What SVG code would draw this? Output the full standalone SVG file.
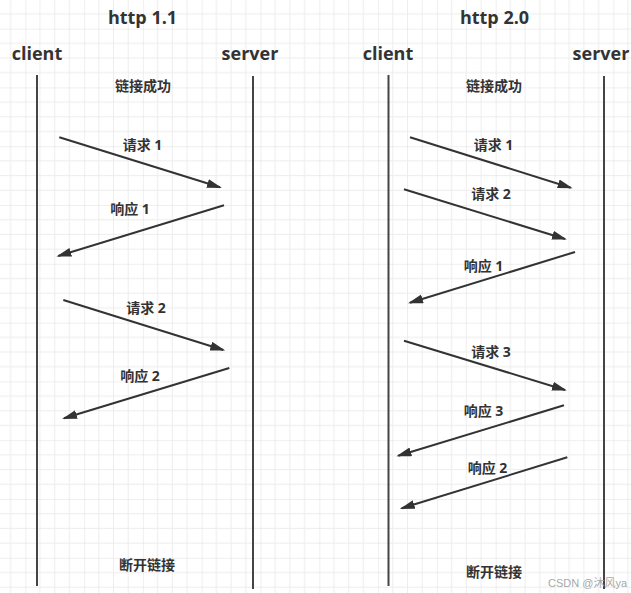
<svg xmlns="http://www.w3.org/2000/svg" width="631" height="593" viewBox="0 0 631 593">
<defs>
<pattern id="grid" patternUnits="userSpaceOnUse" x="25.3" y="28.6" width="58.8" height="58.8">
<rect x="0" y="0" width="58.8" height="58.8" fill="#ffffff"/>
<g fill="#ededed">
<rect x="14.2" y="0" width="1" height="58.8"/>
<rect x="28.9" y="0" width="1" height="58.8"/>
<rect x="43.6" y="0" width="1" height="58.8"/>
<rect x="0" y="14.2" width="58.8" height="1"/>
<rect x="0" y="28.9" width="58.8" height="1"/>
<rect x="0" y="43.6" width="58.8" height="1"/>
</g>
<g fill="#e0e0e0">
<rect x="-0.5" y="0" width="1" height="58.8"/>
<rect x="0" y="-0.5" width="58.8" height="1"/>
</g>
</pattern>
<marker id="ah" markerUnits="userSpaceOnUse" markerWidth="16" markerHeight="10" refX="13" refY="4.5" orient="auto">
<path d="M0,0 L15,4.5 L0,9 z" fill="#333333"/>
</marker>
<style>
.title{font-family:"Open Sans","Noto Sans CJK SC",sans-serif;font-weight:bold;font-size:18px;fill:#333333;text-anchor:middle}
.lbl{font-family:"Open Sans","Noto Sans CJK SC",sans-serif;font-weight:bold;font-size:14px;fill:#333333;text-anchor:middle}
.life{stroke:#444444;stroke-width:2;fill:none}
.msg{stroke:#333333;stroke-width:2;fill:none;marker-end:url(#ah)}
.wm{font-family:"Liberation Sans","Noto Sans CJK SC",sans-serif;font-size:11px;fill:#a8a8a8}
</style>
</defs>
<rect x="0" y="0" width="631" height="593" fill="url(#grid)"/>

<g id="title-http11"><text class="title" x="142.5" y="24">http 1.1</text></g>
<g id="title-http20"><text class="title" x="494.5" y="24">http 2.0</text></g>

<g id="client-1"><text class="title" x="37" y="60">client</text><line class="life" x1="37" y1="75" x2="37" y2="586"/></g>
<g id="server-1"><text class="title" x="250" y="60">server</text><line class="life" x1="253" y1="76" x2="253" y2="589"/></g>
<g id="client-2"><text class="title" x="388" y="60">client</text><line class="life" x1="388.5" y1="75" x2="388.5" y2="586"/></g>
<g id="server-2"><text class="title" x="601" y="60">server</text><line class="life" x1="604" y1="76" x2="604" y2="589"/></g>

<g id="connectors">
<line class="msg" x1="59.3" y1="137.3" x2="220" y2="187.3"/>
<line class="msg" x1="224" y1="205.3" x2="58.3" y2="256"/>
<line class="msg" x1="63.3" y1="300" x2="223.3" y2="350"/>
<line class="msg" x1="229.3" y1="368" x2="64" y2="418.3"/>
<line class="msg" x1="410" y1="137.3" x2="570.7" y2="187.7"/>
<line class="msg" x1="404" y1="189.3" x2="565" y2="239"/>
<line class="msg" x1="575" y1="252" x2="410" y2="302.7"/>
<line class="msg" x1="404" y1="340.7" x2="565" y2="390"/>
<line class="msg" x1="564" y1="405.3" x2="398.3" y2="455.7"/>
<line class="msg" x1="567.3" y1="457.3" x2="401.7" y2="508.3"/>
</g>

<g id="labels">
<text class="lbl" x="143" y="91">链接成功</text>
<text class="lbl" x="142.5" y="150">请求 1</text>
<text class="lbl" x="130" y="214">响应 1</text>
<text class="lbl" x="146" y="313">请求 2</text>
<text class="lbl" x="140" y="381">响应 2</text>
<text class="lbl" x="147" y="570">断开链接</text>
<text class="lbl" x="494" y="91">链接成功</text>
<text class="lbl" x="493.5" y="150">请求 1</text>
<text class="lbl" x="491" y="199">请求 2</text>
<text class="lbl" x="483.5" y="271">响应 1</text>
<text class="lbl" x="491" y="357">请求 3</text>
<text class="lbl" x="483.5" y="416">响应 3</text>
<text class="lbl" x="487.5" y="473">响应 2</text>
<text class="lbl" x="494" y="577">断开链接</text>
</g>
<text class="wm" x="548" y="587">CSDN @沐风ya</text>
</svg>
